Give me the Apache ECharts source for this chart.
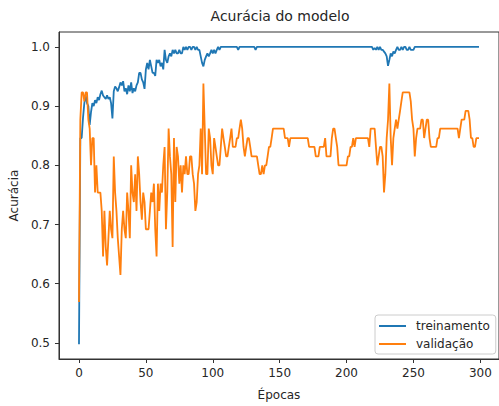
<!DOCTYPE html>
<html>
<head>
<meta charset="utf-8">
<script src="https://cdn.jsdelivr.net/npm/echarts@6/dist/echarts.min.js"></script>
<style>
  html, body { margin: 0; padding: 0; background: #ffffff; }
  #chart { width: 499px; height: 406px; }
</style>
</head>
<body>
<div id="chart"></div>
<script>
// Training accuracy per epoch (epochs 0..299)
const trainAcc = [
  0.498, 0.846, 0.846, 0.880, 0.905, 0.918, 0.905, 0.900, 0.868, 0.890,
  0.905, 0.900, 0.910, 0.905, 0.915, 0.910, 0.920, 0.926, 0.918, 0.915,
  0.912, 0.918, 0.912, 0.915, 0.905, 0.879, 0.925, 0.933, 0.930, 0.925,
  0.932, 0.940, 0.935, 0.942, 0.925, 0.930, 0.920, 0.935, 0.925, 0.940,
  0.922, 0.930, 0.925, 0.935, 0.940, 0.956, 0.956, 0.945, 0.940, 0.929,
  0.962, 0.973, 0.962, 0.978, 0.967, 0.956, 0.956, 0.951, 0.978, 0.973,
  0.978, 0.967, 0.973, 0.962, 0.995, 0.978, 0.973, 0.984, 0.989, 0.984,
  0.995, 0.989, 0.995, 0.989, 0.989, 0.995, 0.989, 0.989, 1, 0.995,
  1, 0.995, 1, 1, 0.995, 1, 1, 0.995, 1, 0.995,
  0.995, 0.984, 0.973, 0.967, 0.978, 0.984, 0.989, 0.984, 0.989, 0.995,
  0.989, 0.995, 0.989, 0.995, 1, 0.995, 1, 1, 1, 1,
  1, 1, 1, 1, 1, 1, 1, 1, 1, 0.995,
  1, 1, 1, 1, 1, 1, 1, 1, 1, 1,
  1, 1, 0.995, 1, 1, 1, 1, 1, 1, 1,
  1, 1, 1, 1, 1, 1, 1, 1, 1, 1,
  1, 1, 1, 1, 1, 1, 1, 1, 1, 1,
  1, 1, 1, 1, 1, 1, 1, 1, 1, 1,
  1, 1, 1, 1, 1, 1, 1, 1, 1, 1,
  1, 1, 1, 1, 1, 1, 1, 1, 1, 1,
  1, 1, 1, 1, 1, 1, 1, 1, 1, 1,
  1, 1, 1, 1, 1, 1, 1, 1, 1, 1,
  1, 1, 1, 1, 1, 1, 1, 1, 1, 1,
  0.995, 0.998, 0.995, 1, 0.995, 1, 0.995, 0.995, 0.992, 0.989,
  0.984, 0.968, 0.978, 0.989, 0.984, 0.992, 0.989, 0.995, 1, 0.995,
  0.995, 1, 0.995, 1, 1, 0.995, 0.995, 1, 0.995, 0.995,
  0.995, 1, 1, 1, 1, 1, 1, 1, 1, 1,
  1, 1, 1, 1, 1, 1, 1, 1, 1, 1,
  1, 1, 1, 1, 1, 1, 1, 1, 1, 1,
  1, 1, 1, 1, 1, 1, 1, 1, 1, 1,
  1, 1, 1, 1, 1, 1, 1, 1, 1, 1
];

// Validation accuracy per epoch (epochs 0..299)
const valAcc = [
  0.569, 0.877, 0.923, 0.923, 0.908, 0.923, 0.923, 0.877, 0.862, 0.800,
  0.846, 0.846, 0.754, 0.800, 0.754, 0.754, 0.754, 0.723, 0.646, 0.723,
  0.662, 0.631, 0.677, 0.723, 0.692, 0.677, 0.815, 0.754, 0.723, 0.677,
  0.646, 0.615, 0.692, 0.723, 0.692, 0.677, 0.754, 0.723, 0.677, 0.800,
  0.754, 0.738, 0.785, 0.723, 0.815, 0.785, 0.738, 0.708, 0.754, 0.738,
  0.692, 0.692, 0.692, 0.723, 0.754, 0.738, 0.769, 0.692, 0.646, 0.769,
  0.723, 0.769, 0.754, 0.800, 0.831, 0.692, 0.754, 0.862, 0.815, 0.785,
  0.662, 0.846, 0.738, 0.831, 0.815, 0.769, 0.800, 0.754, 0.800, 0.785,
  0.815, 0.785, 0.785, 0.815, 0.815, 0.785, 0.769, 0.723, 0.738, 0.785,
  0.800, 0.862, 0.785, 0.938, 0.862, 0.785, 0.785, 0.862, 0.846, 0.800,
  0.785, 0.846, 0.831, 0.815, 0.800, 0.800, 0.831, 0.862, 0.846, 0.831,
  0.815, 0.815, 0.831, 0.846, 0.862, 0.831, 0.831, 0.831, 0.846, 0.846,
  0.862, 0.877, 0.862, 0.831, 0.815, 0.831, 0.846, 0.846, 0.831, 0.815,
  0.815, 0.815, 0.815, 0.815, 0.800, 0.785, 0.785, 0.800, 0.785, 0.800,
  0.800, 0.815, 0.831, 0.831, 0.846, 0.862, 0.862, 0.862, 0.862, 0.862,
  0.862, 0.862, 0.862, 0.862, 0.846, 0.846, 0.846, 0.831, 0.846, 0.846,
  0.846, 0.846, 0.846, 0.846, 0.846, 0.846, 0.846, 0.846, 0.846, 0.846,
  0.846, 0.846, 0.831, 0.831, 0.831, 0.831, 0.831, 0.815, 0.815, 0.815,
  0.831, 0.831, 0.831, 0.831, 0.846, 0.815, 0.815, 0.815, 0.815, 0.846,
  0.862, 0.862, 0.846, 0.831, 0.800, 0.800, 0.800, 0.800, 0.800, 0.800,
  0.800, 0.815, 0.815, 0.831, 0.831, 0.846, 0.831, 0.846, 0.846, 0.846,
  0.846, 0.846, 0.846, 0.846, 0.846, 0.846, 0.846, 0.831, 0.862, 0.862,
  0.862, 0.862, 0.831, 0.800, 0.815, 0.831, 0.831, 0.815, 0.754, 0.785,
  0.846, 0.877, 0.938, 0.846, 0.800, 0.846, 0.862, 0.877, 0.862, 0.877,
  0.892, 0.908, 0.923, 0.923, 0.923, 0.923, 0.923, 0.923, 0.908, 0.877,
  0.862, 0.815, 0.846, 0.862, 0.862, 0.862, 0.877, 0.877, 0.846, 0.862,
  0.877, 0.877, 0.846, 0.831, 0.831, 0.831, 0.831, 0.831, 0.846, 0.846,
  0.862, 0.862, 0.862, 0.862, 0.862, 0.862, 0.862, 0.862, 0.862, 0.862,
  0.862, 0.862, 0.862, 0.862, 0.846, 0.862, 0.877, 0.877, 0.877, 0.892,
  0.892, 0.892, 0.877, 0.846, 0.846, 0.831, 0.831, 0.846, 0.846, 0.846
];

const xTicks = [0, 50, 100, 150, 200, 250, 300];
const yTicks = [0.5, 0.6, 0.7, 0.8, 0.9, 1.0];
const seriesNames = ['treinamento', 'validação'];
const seriesColors = ['#1f77b4', '#ff7f0e'];

const FONT = 'DejaVu Sans';
const INK = '#262626';
const SPINE = '#333333';

// Pair each value with its epoch index
const toPoints = arr => arr.map((v, i) => [i, v]);

const chart = echarts.init(document.getElementById('chart'), null, { renderer: 'svg' });

chart.setOption({
  animation: false,
  backgroundColor: '#ffffff',
  title: {
    text: 'Acurácia do modelo',
    left: 280,
    top: 9,
    textAlign: 'center',
    padding: 0,
    textStyle: { fontFamily: FONT, fontSize: 14, fontWeight: 'normal', color: INK }
  },
  grid: {
    left: 57, top: 32, width: 447, height: 334,
    show: true, borderColor: SPINE, borderWidth: 1, backgroundColor: 'transparent'
  },
  legend: {
    orient: 'vertical',
    left: 375,
    top: 315,
    data: seriesNames,
    icon: 'rect',
    itemWidth: 27,
    itemHeight: 2,
    itemGap: 6,
    padding: [5, 6, 4, 4],
    backgroundColor: 'rgba(255,255,255,0.8)',
    borderColor: '#cccccc',
    borderWidth: 1,
    borderRadius: 3,
    textStyle: { fontFamily: FONT, fontSize: 12, color: INK, padding: [0, 0, 0, 5] }
  },
  xAxis: {
    type: 'value',
    min: -14.95,
    max: 313.95,
    name: 'Épocas',
    nameLocation: 'middle',
    nameGap: 30,
    nameTextStyle: { fontFamily: FONT, fontSize: 12, color: INK },
    axisLine: { show: true, onZero: false, lineStyle: { color: SPINE, width: 1 } },
    axisTick: { show: true, length: 4, customValues: xTicks, lineStyle: { color: SPINE } },
    axisLabel: { customValues: xTicks, margin: 8, fontFamily: FONT, fontSize: 12, color: INK },
    splitLine: { show: false }
  },
  yAxis: {
    type: 'value',
    min: 0.4729,
    max: 1.0251,
    name: 'Acurácia',
    nameLocation: 'middle',
    nameGap: 37,
    nameTextStyle: { fontFamily: FONT, fontSize: 12, color: INK },
    axisLine: { show: true, onZero: false, lineStyle: { color: SPINE, width: 1 } },
    axisTick: { show: true, length: 4, customValues: yTicks, lineStyle: { color: SPINE } },
    axisLabel: {
      customValues: yTicks, margin: 9, fontFamily: FONT, fontSize: 12, color: INK,
      formatter: v => v.toFixed(1)
    },
    splitLine: { show: false }
  },
  series: [
    {
      name: seriesNames[0],
      type: 'line',
      data: toPoints(trainAcc),
      showSymbol: false,
      color: seriesColors[0],
      lineStyle: { width: 1.8, color: seriesColors[0] }
    },
    {
      name: seriesNames[1],
      type: 'line',
      data: toPoints(valAcc),
      showSymbol: false,
      color: seriesColors[1],
      lineStyle: { width: 1.8, color: seriesColors[1] }
    }
  ]
});
</script>
</body>
</html>
